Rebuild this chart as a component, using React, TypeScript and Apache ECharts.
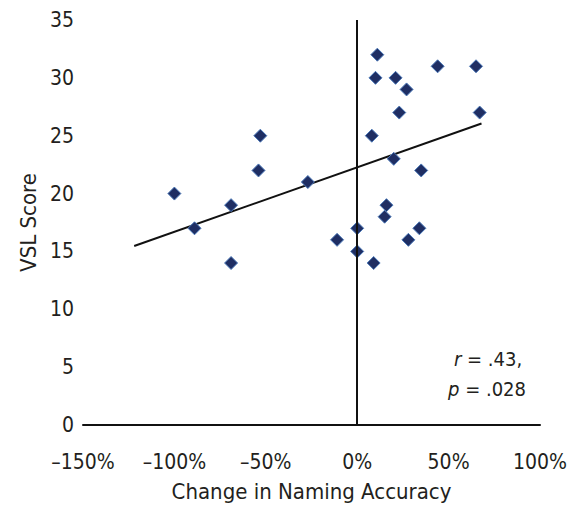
import React, { useEffect, useRef } from "react";
import * as echarts from "echarts";

// Change in naming accuracy (%) and VSL score per participant
const namingChange = [11, 44, 65, 10, 21, 27, 23, 67, -53, 8, 20, -54, 35, -27, -100, -69, 16, -89, 15, 0, 34, -69, -11, 28, 0, 9];
const vslScore = [32, 31, 31, 30, 30, 29, 27, 27, 25, 25, 23, 22, 22, 21, 20, 19, 19, 17, 18, 17, 17, 14, 16, 16, 15, 14];

// Trend line end points
const trendX = [-122, 68];
const trendY = [15.47, 26.05];

const xTicks = { min: -150, max: 100, interval: 50 };
const yTicks = { min: 0, max: 35, interval: 5 };

const statR = ".43,";
const statP = ".028";

const FONT = "'DejaVu Sans Condensed', 'Liberation Sans Narrow', sans-serif";
const TEXT = "#231f20";

export default function App() {
  const ref = useRef<HTMLDivElement>(null);
  useEffect(() => {
    if (!ref.current) return;
    const chart = echarts.init(ref.current, null, { renderer: "svg" });
    const points = namingChange.map((x, i) => [x, vslScore[i]]);
    const trend = trendX.map((x, i) => [x, trendY[i]]);
    chart.setOption({
      animation: false,
      backgroundColor: "#ffffff",
      textStyle: { fontFamily: FONT },
      grid: { left: 83, right: 32, top: 20, bottom: 80 },
      xAxis: {
        type: "value",
        min: xTicks.min,
        max: xTicks.max,
        interval: xTicks.interval,
        name: "Change in Naming Accuracy",
        nameLocation: "middle",
        nameGap: 55,
        nameTextStyle: { fontFamily: FONT, fontSize: 22, color: TEXT },
        axisLine: { show: true, onZero: false, lineStyle: { color: "#111", width: 2 } },
        axisTick: { show: false },
        splitLine: { show: false },
        axisLabel: {
          fontFamily: FONT,
          fontSize: 21,
          color: TEXT,
          margin: 26,
          formatter: (v: number) => (v < 0 ? "\u2013" : "") + Math.abs(v) + "%",
        },
      },
      yAxis: {
        type: "value",
        min: yTicks.min,
        max: yTicks.max,
        interval: yTicks.interval,
        name: "VSL Score",
        nameLocation: "middle",
        nameGap: 43,
        nameTextStyle: { fontFamily: FONT, fontSize: 22, color: TEXT },
        axisLine: { show: false },
        axisTick: { show: false },
        splitLine: { show: false },
        axisLabel: { fontFamily: FONT, fontSize: 21, color: TEXT, margin: 9 },
      },
      series: [
        {
          type: "line",
          data: trend,
          symbol: "none",
          silent: true,
          lineStyle: { color: "#111", width: 2 },
          z: 3,
        },
        {
          type: "scatter",
          data: points,
          symbol: "diamond",
          symbolSize: 13,
          itemStyle: { color: "#1F2E63", borderColor: "#4A78B8", borderWidth: 1, opacity: 1 },
          z: 4,
          markLine: {
            silent: true,
            symbol: "none",
            label: { show: false },
            lineStyle: { color: "#111", width: 2, type: "solid" },
            data: [{ xAxis: 0 }],
          },
        },
      ],
      graphic: [
        {
          type: "text",
          x: 488,
          y: 359,
          style: {
            text: "{i|r} = " + statR,
            textAlign: "center",
            textVerticalAlign: "middle",
            font: "20px " + FONT,
            fill: TEXT,
            rich: { i: { fontStyle: "italic", fontSize: 20, fontFamily: FONT, fill: TEXT } },
          },
        },
        {
          type: "text",
          x: 487,
          y: 389,
          style: {
            text: "{i|p} = " + statP,
            textAlign: "center",
            textVerticalAlign: "middle",
            font: "20px " + FONT,
            fill: TEXT,
            rich: { i: { fontStyle: "italic", fontSize: 20, fontFamily: FONT, fill: TEXT } },
          },
        },
      ],
    });
    return () => chart.dispose();
  }, []);
  return (
    <div
      ref={ref}
      style={{ position: "fixed", left: 0, top: 0, width: 572, height: 507, background: "#fff" }}
    />
  );
}
